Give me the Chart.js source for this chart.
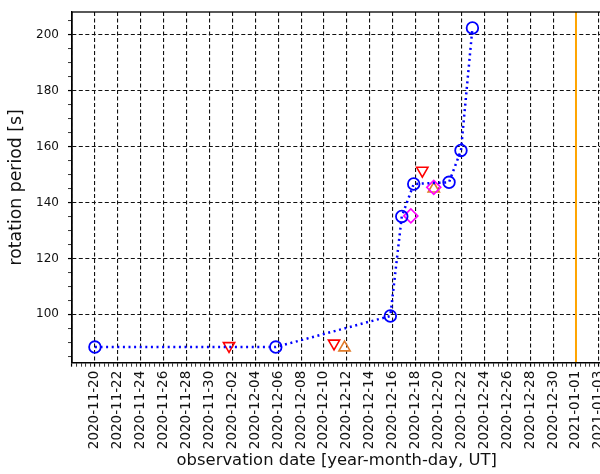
<!DOCTYPE html>
<html>
<head>
<meta charset="utf-8">
<title>rotation period</title>
<script src="https://cdn.jsdelivr.net/npm/chart.js@4/dist/chart.umd.min.js"></script>
<style>
  html, body { margin: 0; padding: 0; background: #fff; overflow: hidden; }
</style>
</head>
<body>
<canvas id="chart" width="610" height="474"></canvas>
<script>
// lightcurve fits: observation date (UT) and rotation period [s]
const fitDates = ['2020-11-20T00:00', '2020-12-05T19:00', '2020-12-15T19:00', '2020-12-16T19:00',
                  '2020-12-17T20:00', '2020-12-20T22:00', '2020-12-21T23:00', '2020-12-22T23:00'];
const fitPeriods = [88.3, 88.3, 99.4, 135.0, 146.6, 147.2, 158.6, 202.4];

// red down triangles
const redDates = ['2020-12-01T17:00', '2020-12-10T21:00', '2020-12-18T14:00'];
const redPeriods = [88.7, 89.6, 151.4];

// orange up triangles
const orangeDates = ['2020-12-11T19:00', '2020-12-19T14:00'];
const orangePeriods = [88.1, 144.9];

// magenta diamonds
const pinkDates = ['2020-12-17T14:00', '2020-12-19T14:00'];
const pinkPeriods = [135.2, 145.4];

// vertical marker
const markerDate = '2021-01-01T00:00';

// axis limits
const startDate = '2020-11-20T00:00';
const xLimits = ['2020-11-18T00:00', '2021-01-03T05:15'];
const yLimits = [82.7, 208.1];

const DAY = 864e5;
const t0 = Date.parse(startDate + 'Z');
const toDay = s => (Date.parse(s + 'Z') - t0) / DAY;
const pts = (dates, vals) => dates.map((d, i) => ({ x: toDay(d), y: vals[i] }));

const isMajorX = v => Math.abs(v / 2 - Math.round(v / 2)) < 1e-6;
const isMajorY = v => Math.abs(v / 20 - Math.round(v / 20)) < 1e-6;
const fmtDate = v => new Date(t0 + Math.round(v) * DAY).toISOString().slice(0, 10);

Chart.defaults.font.family = 'DejaVu Sans';
Chart.defaults.color = '#111';

// draws the box round the plot area (top and right sides)
const framePlugin = {
  id: 'frame',
  afterDraw(chart) {
    const { ctx, chartArea: a } = chart;
    ctx.save();
    ctx.strokeStyle = '#000';
    ctx.lineWidth = 1.3;
    ctx.strokeRect(a.left, a.top, a.right - a.left, a.bottom - a.top);
    ctx.restore();
  }
};

const marker = (style, color, rot, r) => ({
  showLine: false,
  pointStyle: style,
  rotation: rot || 0,
  pointRadius: r || 6,
  pointBorderWidth: 1.6,
  borderColor: color,
  backgroundColor: 'transparent',
  pointBackgroundColor: 'transparent'
});

new Chart(document.getElementById('chart'), {
  type: 'line',
  data: {
    datasets: [
      {
        data: pts(fitDates, fitPeriods),
        borderColor: '#0000ff',
        borderWidth: 2.5,
        borderDash: [2, 3.6],
        pointStyle: 'circle',
        pointRadius: 5.8,
        pointBorderWidth: 1.8,
        pointBackgroundColor: 'transparent',
        backgroundColor: 'transparent',
        tension: 0
      },
      Object.assign({ data: pts(redDates, redPeriods) }, marker('triangle', '#ff0000', 180, 6.5)),
      Object.assign({ data: pts(pinkDates, pinkPeriods) }, marker('rectRot', '#ff00ff', 0, 7)),
      Object.assign({ data: pts(orangeDates, orangePeriods) }, marker('triangle', '#e07b2a', 0, 6.5)),
      {
        data: [{ x: toDay(markerDate), y: yLimits[0] - 10 }, { x: toDay(markerDate), y: yLimits[1] + 10 }],
        borderColor: '#ffa500',
        borderWidth: 2,
        pointRadius: 0
      }
    ]
  },
  options: {
    responsive: false,
    animation: false,
    layout: { padding: { top: 12, left: 0, right: 0, bottom: 0 } },
    plugins: { legend: { display: false }, tooltip: { enabled: false } },
    scales: {
      x: {
        type: 'linear',
        min: toDay(xLimits[0]),
        max: toDay(xLimits[1]),
        afterFit: s => { s.height = 111.3; s.paddingLeft = 0; s.paddingRight = 0; },
        ticks: {
          stepSize: 0.4,
          includeBounds: false,
          autoSkip: false,
          minRotation: 90,
          maxRotation: 90,
          padding: 4,
          font: { size: 13.5 },
          callback: v => isMajorX(v) && v >= 0 ? fmtDate(v) : ''
        },
        grid: {
          color: c => isMajorX(c.tick.value) ? '#111' : 'transparent',
          lineWidth: 1.1,
          tickColor: '#000',
          tickWidth: c => isMajorX(c.tick.value) ? 1.2 : 0.8,
          tickLength: 4
        },
        border: { display: true, color: '#000', width: 1.3, dash: [4, 2.5] },
        title: {
          display: true,
          text: 'observation date [year-month-day, UT]',
          font: { size: 16.4 },
          padding: { top: 0, bottom: 3 }
        }
      },
      y: {
        min: yLimits[0],
        max: yLimits[1],
        afterFit: s => { s.width = 72; s.paddingTop = 0; s.paddingBottom = 0; },
        ticks: {
          stepSize: 5,
          includeBounds: false,
          autoSkip: false,
          padding: 9,
          font: { size: 12 },
          callback: v => isMajorY(v) ? String(v) : ''
        },
        grid: {
          color: c => isMajorY(c.tick.value) ? '#111' : 'transparent',
          lineWidth: 1.1,
          tickColor: '#000',
          tickWidth: c => isMajorY(c.tick.value) ? 1.2 : 0.8,
          tickLength: 4
        },
        border: { display: true, color: '#000', width: 1.3, dash: [4, 2.5] },
        title: {
          display: true,
          text: 'rotation period [s]',
          font: { size: 17.3 },
          padding: { top: 6, bottom: 0 }
        }
      }
    }
  },
  plugins: [framePlugin]
});
</script>
</body>
</html>
